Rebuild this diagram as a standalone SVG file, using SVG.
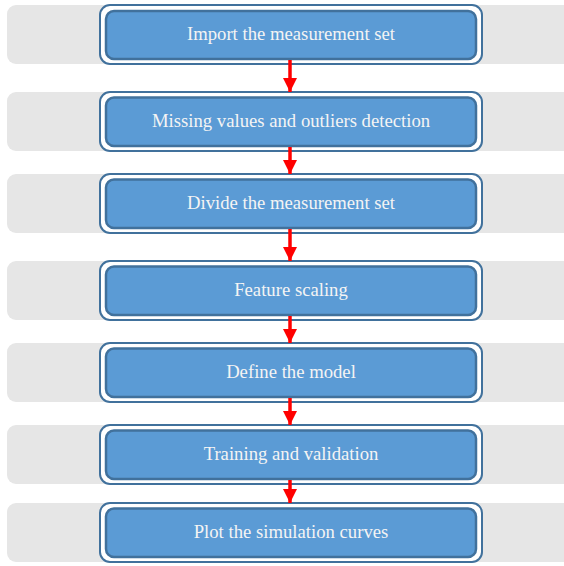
<svg xmlns="http://www.w3.org/2000/svg" width="564" height="566" viewBox="0 0 564 566">
<defs>
<style>
.band{fill:#e6e6e6;}
.outer{fill:#ffffff;stroke:#41719c;stroke-width:2;}
.inner{fill:#5b9bd5;stroke:#41719c;stroke-width:2.5;}
.lbl{font-family:"Liberation Serif","Times New Roman",serif;font-size:18.7px;fill:#f4f4f4;text-anchor:middle;}
.arr{stroke:#ff0000;stroke-width:3.5;fill:none;}
</style>
<marker id="ah" markerUnits="userSpaceOnUse" markerWidth="14" markerHeight="15" refX="14" refY="7" orient="auto">
<path d="M0,0 L14,7 L0,14 Z" fill="#ff0000"/>
</marker>
</defs>
<g id="bands">
<rect class="band" x="7" y="5" width="570" height="59" rx="9"/>
<rect class="band" x="7" y="92" width="570" height="59" rx="9"/>
<rect class="band" x="7" y="174" width="570" height="59" rx="9"/>
<rect class="band" x="7" y="261" width="570" height="59" rx="9"/>
<rect class="band" x="7" y="343" width="570" height="59" rx="9"/>
<rect class="band" x="7" y="425" width="570" height="59" rx="9"/>
<rect class="band" x="7" y="503" width="570" height="59" rx="9"/>
</g>
<g id="n1">
<rect class="outer" x="100" y="5" width="382" height="59" rx="10"/>
<rect class="inner" x="106" y="11" width="370" height="48" rx="8"/>
<text class="lbl" x="291" y="40">Import the measurement set</text>
</g>
<g id="n2">
<rect class="outer" x="100" y="92" width="382" height="59" rx="10"/>
<rect class="inner" x="106" y="97.5" width="370" height="48.5" rx="8"/>
<text class="lbl" x="291" y="127">Missing values and outliers detection</text>
</g>
<g id="n3">
<rect class="outer" x="100" y="174" width="382" height="59" rx="10"/>
<rect class="inner" x="106" y="179.5" width="370" height="48.5" rx="8"/>
<text class="lbl" x="291" y="209">Divide the measurement set</text>
</g>
<g id="n4">
<rect class="outer" x="100" y="261" width="382" height="59" rx="10"/>
<rect class="inner" x="106" y="266.5" width="370" height="48.5" rx="8"/>
<text class="lbl" x="291" y="296">Feature scaling</text>
</g>
<g id="n5">
<rect class="outer" x="100" y="343" width="382" height="59" rx="10"/>
<rect class="inner" x="106" y="348.5" width="370" height="48.5" rx="8"/>
<text class="lbl" x="291" y="378">Define the model</text>
</g>
<g id="n6">
<rect class="outer" x="100" y="425" width="382" height="59" rx="10"/>
<rect class="inner" x="106" y="430.5" width="370" height="48.5" rx="8"/>
<text class="lbl" x="291" y="460">Training and validation</text>
</g>
<g id="n7">
<rect class="outer" x="100" y="503" width="382" height="59" rx="10"/>
<rect class="inner" x="106" y="508.5" width="370" height="48.5" rx="8"/>
<text class="lbl" x="291" y="538">Plot the simulation curves</text>
</g>
<g id="connectors">
<line class="arr" x1="290" y1="60" x2="290" y2="92" marker-end="url(#ah)"/>
<line class="arr" x1="290" y1="147" x2="290" y2="174" marker-end="url(#ah)"/>
<line class="arr" x1="290" y1="229" x2="290" y2="261" marker-end="url(#ah)"/>
<line class="arr" x1="290" y1="316" x2="290" y2="343" marker-end="url(#ah)"/>
<line class="arr" x1="290" y1="398" x2="290" y2="425" marker-end="url(#ah)"/>
<line class="arr" x1="290" y1="480" x2="290" y2="503" marker-end="url(#ah)"/>
</g>
</svg>
